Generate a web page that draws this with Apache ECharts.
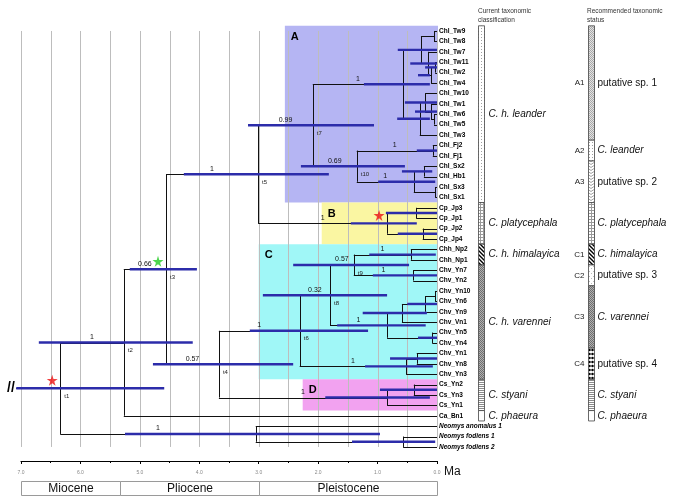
<!DOCTYPE html>
<html><head><meta charset="utf-8">
<script src="https://cdn.jsdelivr.net/npm/echarts@6/dist/echarts.min.js"></script>
<style>html,body{margin:0;padding:0;background:#fff}#c{width:683px;height:502px}</style>
</head><body><div id="c"></div>
<script>
// ---------------- DATA ----------------
const tipLabels = ['Chl_Tw9','Chl_Tw8','Chl_Tw7','Chl_Tw11','Chl_Tw2','Chl_Tw4','Chl_Tw10','Chl_Tw1','Chl_Tw6','Chl_Tw5','Chl_Tw3','Chl_Fj2','Chl_Fj1','Chl_Sx2','Chl_Hb1','Chl_Sx3','Chl_Sx1','Cp_Jp3','Cp_Jp1','Cp_Jp2','Cp_Jp4','Chh_Np2','Chh_Np1','Chv_Yn7','Chv_Yn2','Chv_Yn10','Chv_Yn6','Chv_Yn9','Chv_Vn1','Chv_Yn5','Chv_Yn4','Chv_Yn1','Chv_Yn8','Chv_Yn3','Cs_Yn2','Cs_Yn3','Cs_Yn1','Ca_Bn1','Neomys anomalus 1','Neomys fodiens 1','Neomys fodiens 2'];
const italicTips = ['Neomys anomalus 1','Neomys fodiens 1','Neomys fodiens 2'];
const nodeIds = ['a','d','c','b','f','g','h','i','j','X','k','l1','l2','m','t10','t7','n1','n2','B','t5','o1','o2','t9','s1','r','q','s2','p','t8','u1','u2','t6','v1','D','t4','t3','t2','w1','w2','t1'];
const nodeChildren = [[0,1],[3,4],['d',5],[2,'c'],['a','b'],[8,9],[7,'g'],[6,'h'],['i',10],['f','j'],[11,12],[13,14],[15,16],['l1','l2'],['k','m'],['X','t10'],[17,18],[19,20],['n1','n2'],['t7','B'],[21,22],[23,24],['o1','o2'],[25,26],['s1',27],['r',28],[29,30],['q','s2'],['t9','p'],[31,32],['u1',33],['t8','u2'],[34,35],['v1',36],['t6','D'],['t5','t4'],['t3',37],[39,40],[38,'w1'],['t2','w2']];
const nodeAgeMa = [0.05,0.03,0.10,0.15,0.27,0.05,0.10,0.20,0.29,0.57,0.07,0.22,0.03,0.39,1.35,2.09,0.35,0.24,0.84,3.01,0.44,0.40,1.40,0.03,0.20,0.59,0.08,0.84,1.80,0.34,0.52,2.31,0.39,0.84,3.67,4.56,5.27,0.57,3.05,6.34];
const hpdLowMa  = [null,0.00,0.12,0.00,0.00,null,0.00,0.00,0.12,0.12,0.00,0.08,null,0.03,0.54,1.06,0.00,0.00,0.34,1.82,0.02,0.00,0.47,null,0.00,0.17,0.00,0.19,0.84,0.00,0.07,1.16,0.00,0.12,2.42,4.04,4.11,0.03,0.96,4.59];
const hpdHighMa = [null,0.20,0.32,0.45,0.66,null,0.37,0.54,0.67,1.23,0.34,0.59,null,0.99,2.29,3.18,0.86,0.66,1.45,4.26,1.14,1.08,2.42,null,0.50,1.25,0.32,1.68,2.93,0.79,1.21,3.15,0.96,1.88,4.78,5.17,6.70,1.43,5.25,7.08];
const supportValues = ['','','','','','','','','','1','1','','','1','0.69','0.99','','','1','1','1','1','0.57','','','','','1','0.32','','1','1','','1','0.57','0.66','1','','1',''];
const nodeTags = {t1:'t1',t2:'t2',t3:'t3',t4:'t4',t5:'t5',t6:'t6',t7:'t7',t8:'t8',t9:'t9',t10:'t10'};
const starNodes = ['t1','t3','B'];
const starColors = ['#ee1111','#22cc22','#ee1111'];
const rootStemMa = 7.08;

const cladeNames = ['A','B','C','D'];
const cladeTipRanges = [[0,16],[17,20],[21,33],[34,36]];
const cladeLeftMa = [2.56,1.94,3.0,2.26];

const gridTicksMa = [0,0.5,1,1.5,2,2.5,3,3.5,4,4.5,5,5.5,6,6.5,7];

const epochNames = ['Miocene','Pliocene','Pleistocene'];
const epochStartMa = [7.0,5.33,3.0];
const epochEndMa = [5.33,3.0,0.0];

const currentNames = ['C. h. leander','C. platycephala','C. h. himalayica','C. h. varennei','C. styani','C. phaeura'];
const currentTipRanges = [[0,16],[17,20],[21,22],[23,33],[34,36],[37,37]];
const recCodes = ['A1','A2','A3','','C1','C2','C3','C4','',''];
const recNames = ['putative sp. 1','C. leander','putative sp. 2','C. platycephala','C. himalayica','putative sp. 3','C. varennei','putative sp. 4','C. styani','C. phaeura'];
const recTipRanges = [[0,10],[11,12],[13,16],[17,20],[21,22],[23,24],[25,30],[31,33],[34,36],[37,37]];

// ---------------- STYLE ----------------
const FONT = '"Liberation Sans", Arial, sans-serif';
const cladeColors = ['#b5b5f3','#faf6a2','#a0f7f7','#f2a2f0'];
const currentPatterns = ['dots','grid','hatch','dark','hlines','white'];
const recPatterns = ['light','dots','wave','grid','hatch','sparse','dark','bigdots','hlines','white'];

function makePattern(w,h,draw){
  const c=document.createElement('canvas'); c.width=w; c.height=h;
  const g=c.getContext('2d'); g.fillStyle='#fff'; g.fillRect(0,0,w,h); draw(g);
  return {image:c, repeat:'repeat'};
}
const patterns = {
  dots: makePattern(3,3,g=>{g.fillStyle='#a0a0a0';g.fillRect(1,1,1,1);}),
  grid: makePattern(3,3,g=>{g.fillStyle='#9a9a9a';g.fillRect(0,0,3,1);g.fillRect(0,0,1,3);}),
  hatch: makePattern(4,4,g=>{g.strokeStyle='#000';g.lineWidth=1.4;g.beginPath();g.moveTo(-1,-1);g.lineTo(5,5);g.moveTo(-1,3);g.lineTo(1,5);g.moveTo(3,-1);g.lineTo(5,1);g.stroke();}),
  dark: makePattern(2,2,g=>{g.fillStyle='#6e6e6e';g.fillRect(0,0,1,1);g.fillRect(1,1,1,1);g.fillStyle='#b0b0b0';g.fillRect(1,0,1,1);g.fillRect(0,1,1,1);}),
  hlines: makePattern(1,2,g=>{g.fillStyle='#8a8a8a';g.fillRect(0,0,1,1);}),
  light: makePattern(2,2,g=>{g.fillStyle='#a8a8a8';g.fillRect(0,0,1,1);g.fillRect(1,1,1,1);g.fillStyle='#e2e2e2';g.fillRect(1,0,1,1);g.fillRect(0,1,1,1);}),
  wave: makePattern(6,3,g=>{g.strokeStyle='#8a8a8a';g.lineWidth=0.8;g.beginPath();g.moveTo(0,0.5);g.lineTo(3,2.5);g.lineTo(6,0.5);g.stroke();}),
  sparse: makePattern(4,5,g=>{g.fillStyle='#bbb';g.fillRect(1,1,1,1);g.fillRect(3,3,1,1);}),
  bigdots: makePattern(3,4,g=>{g.fillStyle='#000';g.beginPath();g.arc(1.5,2,1.25,0,Math.PI*2);g.fill();}),
  white: '#ffffff'
};

// ---------------- TREE LAYOUT ----------------
const idx={}; nodeIds.forEach((id,i)=>idx[id]=i);
const nodeY=new Array(nodeIds.length);
function computeY(id){const i=idx[id]; if(nodeY[i]!==undefined) return nodeY[i];
  const ys=nodeChildren[i].map(c=>typeof c==='number'?c:computeY(c)); nodeY[i]=(ys[0]+ys[1])/2; return nodeY[i];}
nodeIds.forEach(computeY);
const yOf=c=>typeof c==='number'?c:nodeY[idx[c]];
const ageOf=c=>typeof c==='number'?0:nodeAgeMa[idx[c]];
const parentOf={};
nodeIds.forEach((id,i)=>nodeChildren[i].forEach(c=>{if(typeof c!=='number') parentOf[c]=id;}));

const branchSegs=[];
nodeIds.forEach((id,i)=>{
  const ch=nodeChildren[i];
  branchSegs.push([nodeAgeMa[i],yOf(ch[0]),nodeAgeMa[i],yOf(ch[1])]);
  ch.forEach(c=>branchSegs.push([nodeAgeMa[i],yOf(c),ageOf(c),yOf(c)]));
});
const rootI=idx['t1'];
branchSegs.push([rootStemMa,nodeY[rootI],nodeAgeMa[rootI],nodeY[rootI]]);

const hpdSegs=[];
nodeIds.forEach((id,i)=>{ if(hpdLowMa[i]!==null) hpdSegs.push([hpdLowMa[i],nodeY[i],hpdHighMa[i],nodeY[i]]); });

const gridSegs=gridTicksMa.map(t=>[t,0,t,tipLabels.length-1]);

const labels=[];
nodeIds.forEach((id,i)=>{
  if(supportValues[i]){ const p=parentOf[id]; const pa=p?nodeAgeMa[idx[p]]:nodeAgeMa[i];
    labels.push({x:(pa+nodeAgeMa[i])/2,y:nodeY[i],text:supportValues[i],kind:'support'}); }
  if(nodeTags[id]) labels.push({x:nodeAgeMa[i],y:nodeY[i],text:nodeTags[id],kind:'tag'});
});
tipLabels.forEach((t,i)=>labels.push({x:0,y:i,text:t,kind:italicTips.includes(t)?'tipi':'tip'}));
labels.push({x:rootStemMa+0.09,y:nodeY[rootI],text:'//',kind:'break'});

const stars=starNodes.map((id,k)=>({value:[nodeAgeMa[idx[id]],nodeY[idx[id]]],itemStyle:{color:starColors[k]}}));

// ---------------- CHART ----------------
const chart=echarts.init(document.getElementById('c'));
const Y_MIN=-1, Y_MAX=41.35;
const px=v=>Math.round(v)+0.5;

function segRender(stroke,w,round){
  return function(params,api){
    const p1=api.coord([api.value(0),api.value(1)]), p2=api.coord([api.value(2),api.value(3)]);
    let x1=p1[0],y1=p1[1],x2=p2[0],y2=p2[1];
    if(round){ if(x1===x2){x1=x2=px(x1);} if(y1===y2){y1=y2=px(y1);} }
    return {type:'line',shape:{x1,y1,x2,y2},style:{stroke,lineWidth:w}};
  };
}
function txt(x,y,text,font,align,va,fill){
  return {type:'text',x,y,style:{text,font,align,verticalAlign:va,textAlign:align,textVerticalAlign:va,fill:fill||'#111'}};
}

const starPath='path://M50,0 L61,35 L98,35 L68,57 L79,91 L50,70 L21,91 L32,57 L2,35 L39,35 Z';

const option={
  animation:false,
  grid:{left:21,width:416,top:20.6,height:440.4,containLabel:false},
  xAxis:{type:'value',min:0,max:7,interval:1,inverse:true,
    axisLine:{show:true,onZero:false,lineStyle:{color:'#000',width:1.2}},
    axisTick:{show:true,length:3,lineStyle:{color:'#000'}},
    minorTick:{show:true,splitNumber:2,length:2,lineStyle:{color:'#000'}},
    axisLabel:{fontSize:5,color:'#888',margin:9,fontFamily:'Liberation Sans',formatter:v=>v.toFixed(1)},
    splitLine:{show:false}},
  yAxis:{type:'value',min:Y_MIN,max:Y_MAX,inverse:true,show:false},
  graphic:[
    {type:'text',left:444,top:466,style:{text:'Ma',font:'12px '+FONT,fill:'#111'}},
    {type:'text',left:478,top:7,style:{text:'Current taxonomic\nclassification',font:'6.5px '+FONT,fill:'#333',lineHeight:8.5}},
    {type:'text',left:587,top:7,style:{text:'Recommended taxonomic\nstatus',font:'6.5px '+FONT,fill:'#333',lineHeight:8.5}}
  ],
  series:[
    {type:'custom',z:1,silent:true,data:cladeNames.map((n,i)=>[cladeLeftMa[i],cladeTipRanges[i][0]-0.5,0,cladeTipRanges[i][1]+0.5]),
      renderItem:(params,api)=>{
        const i=params.dataIndex;
        const p1=api.coord([api.value(0),api.value(1)]), p2=api.coord([api.value(2),api.value(3)]);
        return {type:'group',children:[
          {type:'rect',shape:{x:p1[0],y:p1[1],width:p2[0]-p1[0]+1,height:p2[1]-p1[1]},style:{fill:cladeColors[i]}},
          txt(p1[0]+6,p1[1]+11,cladeNames[i],'bold 11px '+FONT,'left','middle','#000')
        ]};
      }},
    {type:'custom',z:2,silent:true,data:gridSegs,renderItem:segRender('#bdbdbd',1,true)},
    {type:'custom',z:3,silent:true,data:branchSegs,renderItem:segRender('#111',1,true)},
    {type:'custom',z:4,silent:true,data:hpdSegs,renderItem:segRender('#2c2caa',2.4,false)},
    {type:'custom',z:5,silent:true,data:labels.map(l=>[l.x,l.y]),
      renderItem:(params,api)=>{
        const l=labels[params.dataIndex]; const p=api.coord([api.value(0),api.value(1)]);
        if(l.kind==='support') return txt(p[0],p[1]-2,l.text,'7px '+FONT,'center','bottom','#111');
        if(l.kind==='tag') return txt(p[0]+4,p[1]+5,l.text,'6px '+FONT,'left','top','#222');
        if(l.kind==='tip') return txt(p[0]+2,p[1],l.text,'bold 6.5px '+FONT,'left','middle','#000');
        if(l.kind==='tipi') return txt(p[0]+2,p[1],l.text,'italic bold 6.5px '+FONT,'left','middle','#000');
        return txt(p[0],p[1],l.text,'bold 14px '+FONT,'center','middle','#000');
      }},
    {type:'scatter',z:6,silent:true,symbol:starPath,symbolSize:11,symbolOffset:[-8,-8],data:stars},
    {type:'custom',z:5,silent:true,data:epochNames.map((n,i)=>[epochStartMa[i],epochEndMa[i]]),
      renderItem:(params,api)=>{
        const i=params.dataIndex;
        const x1=px(api.coord([api.value(0),0])[0]), x2=px(api.coord([api.value(1),0])[0]);
        const y1=481.5,y2=495.5;
        return {type:'group',children:[
          {type:'rect',shape:{x:x1,y:y1,width:x2-x1,height:y2-y1},style:{fill:'#fff',stroke:'#9a9a9a',lineWidth:1}},
          txt((x1+x2)/2,489,epochNames[i],'12px '+FONT,'center','middle','#111')
        ]};
      }},
    {type:'custom',z:5,silent:true,data:currentNames.map((n,i)=>[0,currentTipRanges[i][0]-0.5,0,currentTipRanges[i][1]+0.5]),
      renderItem:(params,api)=>{
        const i=params.dataIndex;
        const p1=api.coord([0,api.value(1)]), p2=api.coord([0,api.value(3)]);
        const x=p1[0]+41.5, w=6;
        return {type:'group',children:[
          {type:'rect',shape:{x,y:p1[1],width:w,height:p2[1]-p1[1]},style:{fill:patterns[currentPatterns[i]],stroke:'#444',lineWidth:0.8}},
          txt(x+w+4,(p1[1]+p2[1])/2,currentNames[i],'italic 10px '+FONT,'left','middle','#111')
        ]};
      }},
    {type:'custom',z:5,silent:true,data:recNames.map((n,i)=>[0,recTipRanges[i][0]-0.5,0,recTipRanges[i][1]+0.5]),
      renderItem:(params,api)=>{
        const i=params.dataIndex;
        const p1=api.coord([0,api.value(1)]), p2=api.coord([0,api.value(3)]);
        const x=p1[0]+151.5, w=6, cy=(p1[1]+p2[1])/2;
        const it=recNames[i].startsWith('C.')?'italic ':'';
        const ch=[
          {type:'rect',shape:{x,y:p1[1],width:w,height:p2[1]-p1[1]},style:{fill:patterns[recPatterns[i]],stroke:'#444',lineWidth:0.8}},
          txt(x+w+3,cy,recNames[i],it+'10px '+FONT,'left','middle','#111')
        ];
        if(recCodes[i]) ch.push(txt(x-4,cy,recCodes[i],'8px '+FONT,'right','middle','#222'));
        return {type:'group',children:ch};
      }}
  ]
};
chart.setOption(option);
</script></body></html>
